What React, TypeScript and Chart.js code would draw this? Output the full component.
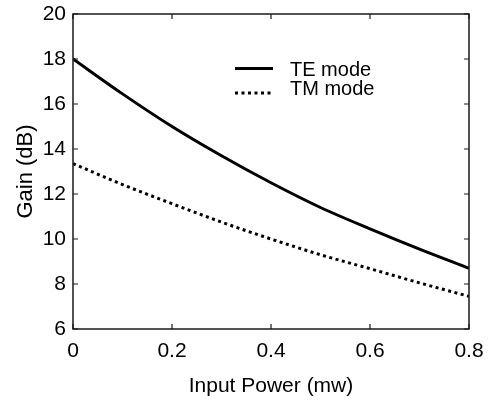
import React, { useEffect, useRef } from "react";
import { Chart, registerables } from "chart.js";
Chart.register(...registerables);

const inputPower = [0, 0.1, 0.2, 0.3, 0.4, 0.5, 0.6, 0.7, 0.8];
const teGain = [18.0, 16.45, 15.0, 13.7, 12.5, 11.4, 10.45, 9.55, 8.7];
const tmGain = [13.35, 12.42, 11.57, 10.75, 10.0, 9.3, 8.68, 8.05, 7.45];
const xTicks = [0, 0.2, 0.4, 0.6, 0.8];
const yTicks = [6, 8, 10, 12, 14, 16, 18, 20];
const seriesLabels = ["TE mode", "TM mode"];
const xTitle = "Input Power (mw)";
const yTitle = "Gain (dB)";

const FONT = "'Liberation Sans', Arial, Helvetica, sans-serif";

const boxPlugin = {
  id: "boxPlugin",
  afterDatasetsDraw(chart: any) {
    const { ctx, chartArea } = chart;
    const { left, right, top, bottom } = chartArea;
    const xs = chart.scales.x;
    const ys = chart.scales.y;
    const tl = 5;
    ctx.save();
    ctx.strokeStyle = "#1a1a1a";
    ctx.lineWidth = 1.5;
    ctx.strokeRect(left, top, right - left, bottom - top);
    ctx.lineWidth = 1.2;
    ctx.beginPath();
    xTicks.forEach((v) => {
      const px = xs.getPixelForValue(v);
      ctx.moveTo(px, bottom);
      ctx.lineTo(px, bottom - tl);
      ctx.moveTo(px, top);
      ctx.lineTo(px, top + tl);
    });
    yTicks.forEach((v) => {
      const py = ys.getPixelForValue(v);
      ctx.moveTo(left, py);
      ctx.lineTo(left + tl, py);
      ctx.moveTo(right, py);
      ctx.lineTo(right - tl, py);
    });
    ctx.stroke();
    ctx.restore();
  },
};

const legendPlugin = {
  id: "insideLegend",
  afterDraw(chart: any) {
    const { ctx } = chart;
    const textY = [70.5, 89.5];
    const lineY = [68.5, 93];
    ctx.save();
    chart.data.datasets.forEach((ds: any, i: number) => {
      ctx.beginPath();
      ctx.strokeStyle = ds.borderColor;
      ctx.lineWidth = ds.borderWidth;
      ctx.setLineDash(ds.borderDash || []);
      ctx.moveTo(235, lineY[i]);
      ctx.lineTo(273, lineY[i]);
      ctx.stroke();
      ctx.setLineDash([]);
      ctx.fillStyle = "#000";
      ctx.font = `20px ${FONT}`;
      ctx.textBaseline = "middle";
      ctx.textAlign = "left";
      ctx.fillText(ds.label, 290, textY[i]);
    });
    ctx.restore();
  },
};

export default function App() {
  const ref = useRef<HTMLCanvasElement | null>(null);
  useEffect(() => {
    document.body.style.margin = "0";
    const canvas = ref.current;
    if (!canvas) return;
    const chart = new Chart(canvas, {
      type: "line",
      data: {
        datasets: [
          {
            label: seriesLabels[0],
            data: inputPower.map((x, i) => ({ x, y: teGain[i] })),
            borderColor: "#000",
            borderWidth: 3,
            pointRadius: 0,
            tension: 0.4,
            cubicInterpolationMode: "monotone",
            fill: false,
          },
          {
            label: seriesLabels[1],
            data: inputPower.map((x, i) => ({ x, y: tmGain[i] })),
            borderColor: "#000",
            borderWidth: 3,
            borderDash: [3, 3.5],
            pointRadius: 0,
            tension: 0.4,
            cubicInterpolationMode: "monotone",
            fill: false,
          },
        ],
      },
      options: {
        responsive: false,
        animation: false,
        devicePixelRatio: 1,
        layout: { padding: { top: 14, right: 20, left: 0, bottom: 0 } },
        plugins: {
          legend: { display: false },
          tooltip: { enabled: false },
        },
        scales: {
          x: {
            type: "linear",
            min: 0,
            max: 0.8,
            afterBuildTicks: (s: any) => {
              s.ticks = xTicks.map((v) => ({ value: v }));
            },
            afterFit: (s: any) => {
              s.height = 74;
              s.paddingLeft = 0;
              s.paddingRight = 0;
            },
            grid: { display: false, drawTicks: false },
            border: { display: false },
            ticks: {
              color: "#000",
              font: { family: FONT, size: 21 },
              padding: 10,
              maxRotation: 0,
              callback: (v: any) => String(v),
            },
            title: {
              display: true,
              text: xTitle,
              color: "#000",
              font: { family: FONT, size: 21 },
              padding: { top: 0, bottom: 4 },
            },
          },
          y: {
            type: "linear",
            min: 6,
            max: 20,
            afterBuildTicks: (s: any) => {
              s.ticks = yTicks.map((v) => ({ value: v }));
            },
            afterFit: (s: any) => {
              s.width = 73;
              s.paddingTop = 0;
              s.paddingBottom = 0;
            },
            grid: { display: false, drawTicks: false },
            border: { display: false },
            ticks: {
              color: "#000",
              font: { family: FONT, size: 21 },
              padding: 7,
              callback: (v: any) => String(v),
            },
            title: {
              display: true,
              text: yTitle,
              color: "#000",
              font: { family: FONT, size: 22 },
              padding: { top: 13, bottom: 0 },
            },
          },
        },
      },
      plugins: [boxPlugin, legendPlugin],
    } as any);
    return () => chart.destroy();
  }, []);
  return (
    <div style={{ width: 489, height: 403, background: "#fff" }}>
      <canvas ref={ref} width={489} height={403} />
    </div>
  );
}
